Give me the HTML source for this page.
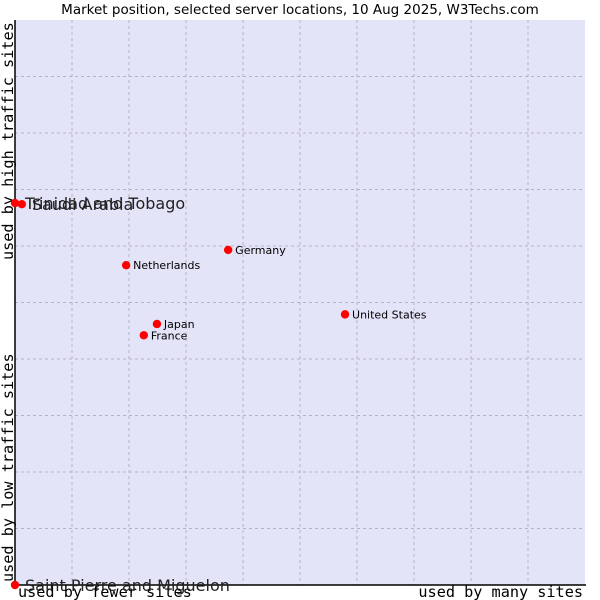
<!DOCTYPE html>
<html><head><meta charset="utf-8"><style>
body{margin:0;background:#fff;width:600px;height:600px;overflow:hidden}
svg{display:block}
</style></head><body>
<svg id="chart" width="600" height="600" xmlns="http://www.w3.org/2000/svg">
<text x="300" y="14" text-anchor="middle" font-family="DejaVu Sans, sans-serif" font-size="13.5" fill="#000">Market position, selected server locations, 10 Aug 2025, W3Techs.com</text>
<rect x="15" y="20" width="570" height="565" fill="#e3e4f8"/>
<g id="grid"></g>
<line x1="15" y1="20" x2="15" y2="586" stroke="#000" stroke-width="1.5"/>
<line x1="14" y1="585" x2="586" y2="585" stroke="#000" stroke-width="1.5"/>
<text transform="translate(13,260) rotate(-90)" font-family="DejaVu Sans Mono, Liberation Mono, monospace" font-size="15.2" fill="#000">used by high traffic sites</text>
<text transform="translate(13,582) rotate(-90)" font-family="DejaVu Sans Mono, Liberation Mono, monospace" font-size="15.2" fill="#000">used by low traffic sites</text>
<text x="18" y="597" font-family="DejaVu Sans Mono, Liberation Mono, monospace" font-size="15.2" fill="#000">used by fewer sites</text>
<text x="583" y="597" text-anchor="end" font-family="DejaVu Sans Mono, Liberation Mono, monospace" font-size="15.2" fill="#000">used by many sites</text>
<g id="points"></g>
</svg>
<script>
const countries=["Trinidad and Tobago","Saudi Arabia","Saint Pierre and Miguelon","Netherlands","Germany","United States","Japan","France"];
const siteShare=[0,1.2,0,19.5,37.4,57.9,24.9,22.6];
const trafficScore=[67.6,67.4,0,56.6,59.3,47.9,46.2,44.2];
const bigLabel=[true,true,true,false,false,false,false,false];
const NS="http://www.w3.org/2000/svg";
const X0=15,X1=585,Y0=585,Y1=20;
const xs=v=>X0+v/100*(X1-X0);
const ys=v=>Y0-v/100*(Y0-Y1);
const grid=document.getElementById('grid');
for(let i=1;i<10;i++){
  const gx=document.createElementNS(NS,'line');
  
  
  gx.setAttribute('x1',xs(i*10));gx.setAttribute('x2',xs(i*10));gx.setAttribute('y1',Y1);gx.setAttribute('y2',Y0);
  gx.setAttribute('stroke','#b4b4c0');gx.setAttribute('stroke-dasharray','3,3');
  grid.appendChild(gx);
  const gy=document.createElementNS(NS,'line');
  
  
  gy.setAttribute('y1',ys(i*10));gy.setAttribute('y2',ys(i*10));gy.setAttribute('x1',X0);gy.setAttribute('x2',X1);
  gy.setAttribute('stroke','#b4b4c0');gy.setAttribute('stroke-dasharray','3,3');
  grid.appendChild(gy);
}
const pts=document.getElementById('points');
countries.forEach((c,i)=>{
  const x=xs(siteShare[i]),y=ys(trafficScore[i]);
  const d=document.createElementNS(NS,'circle');
  
  
  d.setAttribute('cx',x);d.setAttribute('cy',y);d.setAttribute('r',4.2);
  d.setAttribute('fill','#f00');
  pts.appendChild(d);
  const t=document.createElementNS(NS,'text');
  
  
  t.setAttribute('x',x+(bigLabel[i]?10:7));
  t.setAttribute('y',y+(bigLabel[i]?6:4));
  t.setAttribute('font-family','DejaVu Sans, sans-serif');
  t.setAttribute('font-size',bigLabel[i]?16:11);
  t.setAttribute('fill',bigLabel[i]?'#222':'#000');
  t.textContent=c;
  pts.appendChild(t);
});
</script>
</body></html>
